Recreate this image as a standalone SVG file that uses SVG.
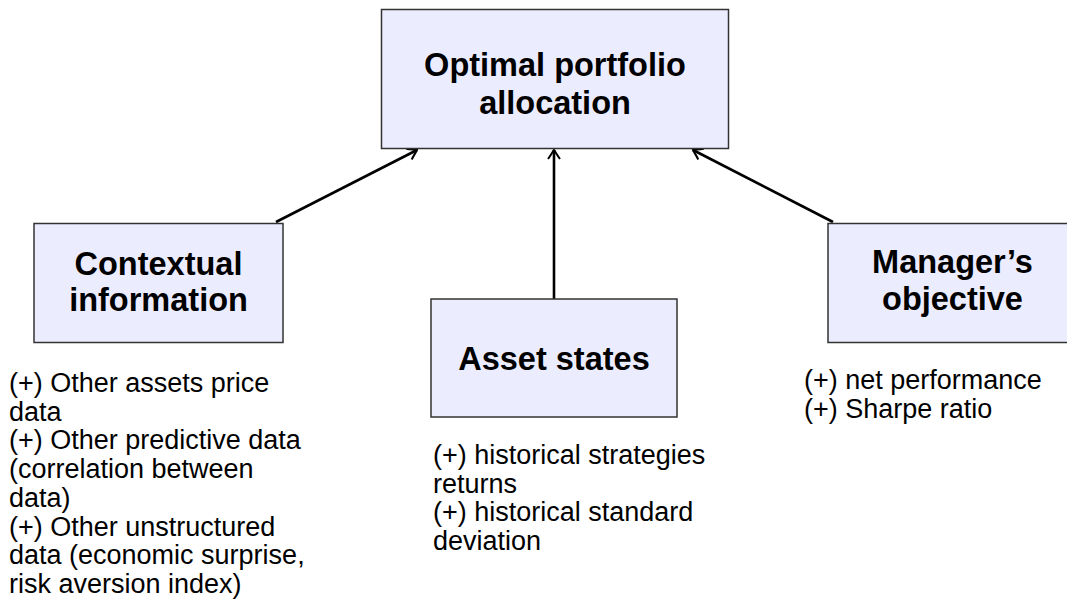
<svg xmlns="http://www.w3.org/2000/svg" width="1067" height="603" viewBox="0 0 1067 603">
<style>
.box{fill:#ececff;stroke:#333;stroke-width:1.5}
.title{font-family:"Liberation Sans",Arial,sans-serif;font-weight:bold;font-size:32.5px;fill:#000;text-anchor:middle}
.body{font-family:"Liberation Sans",Arial,sans-serif;font-size:27px;fill:#000}
.conn{stroke:#000;stroke-width:2.6;fill:none}
</style>
<defs>
<marker id="arr" viewBox="-12 -8 14 16" markerWidth="14" markerHeight="16" refX="0" refY="0" orient="auto" markerUnits="userSpaceOnUse">
<path d="M-9,-6 C-5,-3 -1,-1 0,0 C-1,1 -5,3 -9,6" fill="none" stroke="#000" stroke-width="2"/>
</marker>
</defs>
<rect width="1067" height="603" fill="#fff"/>
<g id="connectors">
<line class="conn" x1="276" y1="222" x2="417" y2="150" marker-end="url(#arr)"/>
<line class="conn" x1="554" y1="299" x2="554" y2="150" marker-end="url(#arr)"/>
<line class="conn" x1="833" y1="222" x2="693" y2="150" marker-end="url(#arr)"/>
</g>
<g id="node-optimal">
<rect class="box" x="381.5" y="9.5" width="347" height="139"/>
<text class="title" x="555" y="76">Optimal portfolio</text>
<text class="title" x="555" y="113.5">allocation</text>
</g>
<g id="node-contextual">
<rect class="box" x="34" y="223.5" width="249" height="119"/>
<text class="title" x="158.5" y="275">Contextual</text>
<text class="title" x="158.5" y="311">information</text>
<g class="body">
<text x="9" y="392">(+) Other assets price</text>
<text x="9" y="420.7">data</text>
<text x="9" y="449.4">(+) Other predictive data</text>
<text x="9" y="478.1">(correlation between</text>
<text x="9" y="506.8">data)</text>
<text x="9" y="535.5">(+) Other unstructured</text>
<text x="9" y="564.2">data (economic surprise,</text>
<text x="9" y="592.9">risk aversion index)</text>
</g>
</g>
<g id="node-asset">
<rect class="box" x="431" y="299" width="246" height="118"/>
<text class="title" x="554" y="370">Asset states</text>
<g class="body">
<text x="433" y="464">(+) historical strategies</text>
<text x="433" y="492.7">returns</text>
<text x="433" y="521.4">(+) historical standard</text>
<text x="433" y="550.1">deviation</text>
</g>
</g>
<g id="node-manager">
<rect class="box" x="828" y="223.5" width="249" height="119"/>
<text class="title" x="952.5" y="273">Manager’s</text>
<text class="title" x="952.5" y="310">objective</text>
<g class="body">
<text x="804" y="389">(+) net performance</text>
<text x="804" y="417.7">(+) Sharpe ratio</text>
</g>
</g>
</svg>
